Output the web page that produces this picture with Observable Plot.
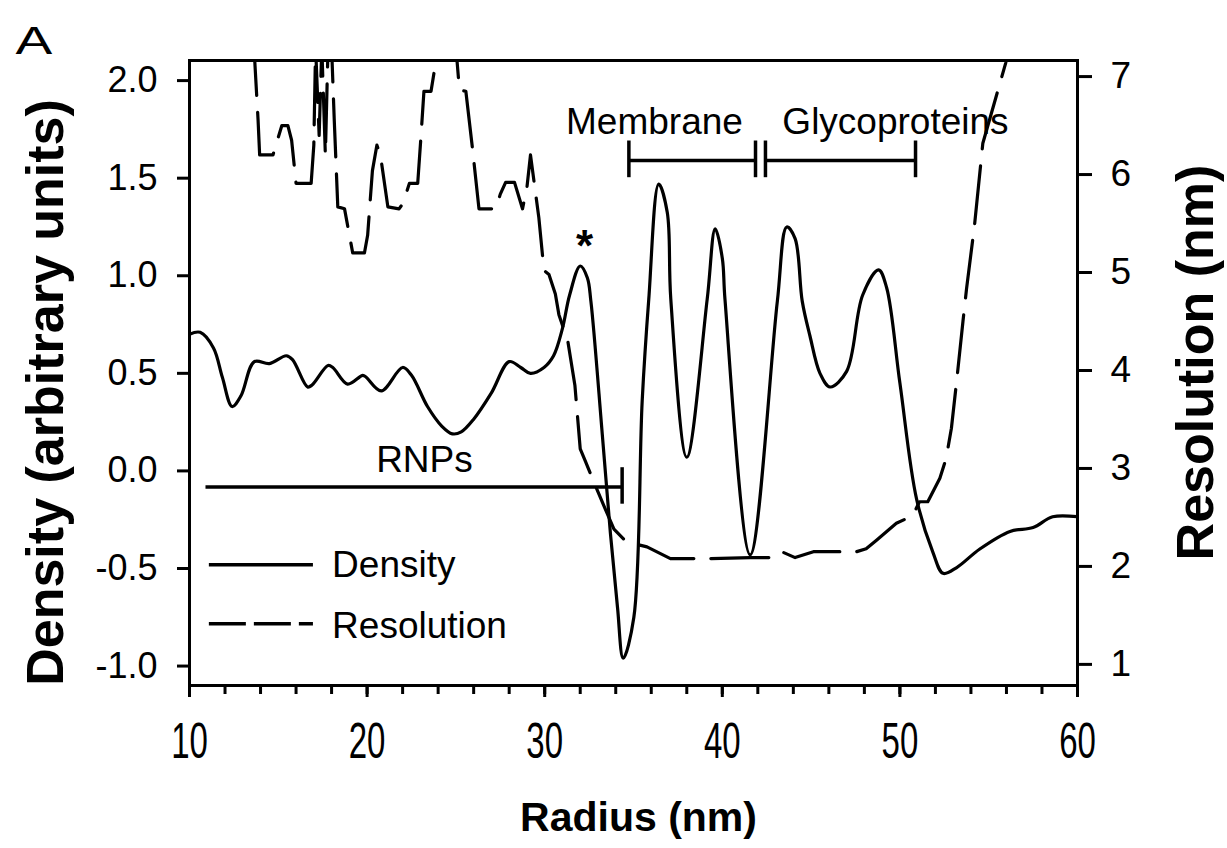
<!DOCTYPE html>
<html><head><meta charset="utf-8">
<script src="https://cdn.jsdelivr.net/npm/d3@7"></script>
<script src="https://cdn.jsdelivr.net/npm/@observablehq/plot@0.6"></script>
<style>body{margin:0;background:#fff} svg{display:block}</style>
</head><body><div id="chart"></div>
<script>
// ---- data ----
const densityRadius = [10.0, 10.6, 11.35, 11.85, 12.4, 12.9, 13.65, 14.5, 15.45, 15.8, 16.65, 16.9, 17.8, 18.07, 18.9, 19.76, 19.95, 20.8, 22.0, 22.5, 23.4, 24.2, 24.8, 25.3, 26.0, 27.0, 28.0, 28.65, 29.2, 29.96, 30.5, 31.0, 31.4, 32.0, 32.4, 32.6, 33.24, 33.7, 34.1, 34.42, 35.02, 35.49, 35.86, 36.42, 36.9, 37.1, 38.0, 39.15, 39.6, 40.0, 40.15, 41.57, 43.1, 43.63, 44.1, 44.5, 44.94, 45.5, 46.07, 47.0, 47.9, 48.8, 49.25, 50.0, 50.94, 51.87, 52.43, 53.2, 54.5, 56.2, 57.5, 58.6, 60.0];
const densityValue = [0.70, 0.71, 0.63, 0.48, 0.33, 0.385, 0.56, 0.55, 0.59, 0.57, 0.43, 0.44, 0.54, 0.53, 0.445, 0.49, 0.48, 0.41, 0.53, 0.49, 0.33, 0.23, 0.19, 0.20, 0.265, 0.40, 0.56, 0.53, 0.50, 0.53, 0.59, 0.73, 0.90, 1.05, 0.99, 0.87, 0.19, -0.32, -0.70, -0.96, -0.75, 0.36, 0.88, 1.47, 1.325, 0.88, 0.07, 0.88, 1.24, 1.09, 0.88, -0.43, 0.87, 1.25, 1.19, 0.87, 0.69, 0.50, 0.43, 0.51, 0.90, 1.03, 0.94, 0.45, -0.145, -0.42, -0.525, -0.495, -0.40, -0.31, -0.29, -0.235, -0.235];

const resolutionRadius = [13.6, 13.86, 13.95, 14.7, 15.0, 15.2, 15.54, 15.75, 16.0, 16.85, 17.0, 17.1, 17.3, 17.45, 17.65, 17.8, 18.0, 18.15, 18.35, 18.73, 19.19, 19.85, 20.03, 20.3, 20.55, 20.75, 21.17, 21.8, 22.0, 22.19, 22.38, 22.85, 23.03, 23.2, 23.6, 24.0, 25.0, 25.2, 25.56, 25.93, 26.3, 27.25, 27.5, 27.8, 28.3, 28.75, 29.0, 29.2, 29.67, 29.96, 30.24, 30.6, 30.8, 31.3, 31.7, 32.0, 32.3, 32.77, 33.4, 33.9, 34.6, 35.76, 37.08, 39.3, 41.57, 42.88, 43.35, 44.1, 45.13, 47.56, 48.1, 48.7, 49.8, 50.73, 51.1, 51.57, 52.25, 52.6, 52.9, 53.2, 53.55, 53.75, 54.2, 54.67, 55.96, 56.1];
const resolutionValue = [7.4, 6.56, 6.2, 6.2, 6.38, 6.5, 6.5, 6.35, 5.91, 5.91, 6.3, 7.3, 6.4, 7.3, 6.2, 7.3, 7.3, 6.56, 5.67, 5.65, 5.2, 5.2, 5.38, 6.04, 6.3, 6.2, 5.67, 5.65, 5.7, 5.8, 5.91, 5.91, 6.38, 6.85, 6.85, 7.3, 7.3, 6.86, 6.85, 6.27, 5.65, 5.65, 5.8, 5.92, 5.92, 5.65, 5.87, 6.2, 5.56, 5.02, 4.98, 4.78, 4.57, 4.30, 3.85, 3.2, 3.07, 2.86, 2.59, 2.38, 2.25, 2.2, 2.08, 2.08, 2.09, 2.09, 2.15, 2.09, 2.15, 2.15, 2.18, 2.27, 2.44, 2.52, 2.66, 2.66, 2.9, 3.1, 3.41, 3.9, 4.5, 4.83, 5.48, 6.32, 7.14, 7.3];

const xMajorTicks = [10, 20, 30, 40, 50, 60];
const xMinorTicks = [10, 12, 14, 16, 18, 20, 22, 24, 26, 28, 30, 32, 34, 36, 38, 40, 42, 44, 46, 48, 50, 52, 54, 56, 58, 60];
const densityTicks = [-1.0, -0.5, 0.0, 0.5, 1.0, 1.5, 2.0];
const resolutionTicks = [1, 2, 3, 4, 5, 6, 7];

// annotation content
const regionLabels = ["Membrane", "Glycoproteins", "RNPs"];
const membraneSpan = [34.74, 41.87];
const glycoSpan = [42.43, 50.88];
const rnpSpan = [10.9, 34.36];
const legendLabels = ["Density", "Resolution"];

// ---- right axis (resolution) mapped onto the density scale ----
const toD = r => (r - 3) * 0.502 + 0.0126;
const fromD = d => (d - 0.0126) / 0.502 + 3;

const density = densityRadius.map((x, i) => ({x, y: densityValue[i]}));
const resolution = resolutionRadius.map((x, i) => ({x, y: toD(resolutionValue[i])}));

const bracketY = 1.591, capLo = 1.505, capHi = 1.693;
const rnpY = -0.083;
const segs = [
  {x1: membraneSpan[0], x2: membraneSpan[1], y1: bracketY, y2: bracketY},
  {x1: membraneSpan[0], x2: membraneSpan[0], y1: capLo, y2: capHi},
  {x1: membraneSpan[1], x2: membraneSpan[1], y1: capLo, y2: capHi},
  {x1: glycoSpan[0], x2: glycoSpan[1], y1: bracketY, y2: bracketY},
  {x1: glycoSpan[0], x2: glycoSpan[0], y1: capLo, y2: capHi},
  {x1: glycoSpan[1], x2: glycoSpan[1], y1: capLo, y2: capHi},
  {x1: rnpSpan[0], x2: rnpSpan[1], y1: rnpY, y2: rnpY},
  {x1: rnpSpan[1], x2: rnpSpan[1], y1: 0.019, y2: -0.168}
];
const labelPos = [
  {t: regionLabels[0], x: 36.18, y: 1.727},
  {t: regionLabels[1], x: 49.75, y: 1.727},
  {t: regionLabels[2], x: 23.23, y: -0.006}
];
const legendLine = [{x1: 11.09, x2: 16.95, y: -0.481}, {x1: 11.09, x2: 16.95, y: -0.783}];
const legendText = [{t: legendLabels[0], x: 18.03, y: -0.544}, {t: legendLabels[1], x: 18.03, y: -0.855}];

const font = "'Liberation Sans', Arial, sans-serif";

const plot = Plot.plot({
  width: 1227, height: 848,
  marginLeft: 189, marginRight: 150, marginTop: 60, marginBottom: 163,
  style: {fontFamily: font, background: "#fff", color: "#000", overflow: "visible"},
  x: {domain: [10, 60]},
  y: {domain: [-1.0996, 2.103]},
  marks: [
    Plot.line(resolution, {x: "x", y: "y", stroke: "#000", strokeWidth: 3.2, strokeDasharray: "58,17", clip: true}),
    Plot.line(density, {x: "x", y: "y", stroke: "#000", strokeWidth: 3.2, curve: "catmull-rom", clip: true}),
    Plot.link(segs, {x1: "x1", x2: "x2", y1: "y1", y2: "y2", stroke: "#000", strokeWidth: 3.5}),
    Plot.link([legendLine[0]], {x1: "x1", x2: "x2", y1: "y", y2: "y", stroke: "#000", strokeWidth: 3.5}),
    Plot.link([legendLine[1]], {x1: "x1", x2: "x2", y1: "y", y2: "y", stroke: "#000", strokeWidth: 3.5, strokeDasharray: "37,8"}),
    Plot.text(labelPos, {x: "x", y: "y", text: "t", lineAnchor: "bottom", textAnchor: "middle", fontSize: 37, fill: "#000"}),
    Plot.text(legendText, {x: "x", y: "y", text: "t", lineAnchor: "bottom", textAnchor: "start", fontSize: 37, fill: "#000"}),
    Plot.text(["*"], {x: () => 32.24, y: () => 1.078, text: d => d, lineAnchor: "bottom", textAnchor: "middle", fontSize: 44, fontWeight: "bold"}),
    Plot.frame({stroke: "#000", strokeWidth: 3}),
    Plot.axisY({ticks: densityTicks, anchor: "left", tickSize: 12, tickPadding: 20, fontSize: 36, strokeWidth: 3, tickFormat: d => d.toFixed(1), label: null}),
    Plot.axisY({ticks: resolutionTicks.map(toD), anchor: "right", tickSize: 14, tickPadding: 19, fontSize: 37, strokeWidth: 3, tickFormat: d => String(Math.round(fromD(d))), label: null}),
    Plot.axisX({ticks: xMajorTicks, tickSize: 12, tickPadding: 25, fontSize: 50, strokeWidth: 3, label: null}),
    Plot.axisX({ticks: xMinorTicks, tickSize: 9, strokeWidth: 3, tickFormat: () => "", label: null}),
    Plot.text(["Radius (nm)"], {text: d => d, frameAnchor: "bottom", lineAnchor: "bottom", dx: 5, dy: 145, fontSize: 41, fontWeight: "bold"}),
    Plot.text(["Density (arbitrary units)"], {text: d => d, frameAnchor: "left", rotate: -90, textAnchor: "middle", lineAnchor: "bottom", dx: -127, dy: 19.5, fontSize: 52, fontWeight: "bold"}),
    Plot.text(["Resolution (nm)"], {text: d => d, frameAnchor: "right", rotate: -90, textAnchor: "middle", lineAnchor: "bottom", dx: 135, dy: -10.5, fontSize: 52, fontWeight: "bold"}),
    Plot.text(["A"], {text: d => d, frameAnchor: "top-left", textAnchor: "start", lineAnchor: "bottom", dx: -174, dy: -7, fontSize: 38, className: "panel-letter"})
  ]
});

d3.select(plot).selectAll('g[aria-label="x-axis tick label"] text').each(function () {
  const t = this.getAttribute("transform") || "";
  this.setAttribute("transform", t + " scale(0.66,1)");
});
d3.select(plot).selectAll('.panel-letter text').each(function () {
  const t = this.getAttribute("transform") || "";
  this.setAttribute("transform", t + " scale(1.45,1)");
});

document.getElementById("chart").appendChild(plot);
</script>
</body></html>
